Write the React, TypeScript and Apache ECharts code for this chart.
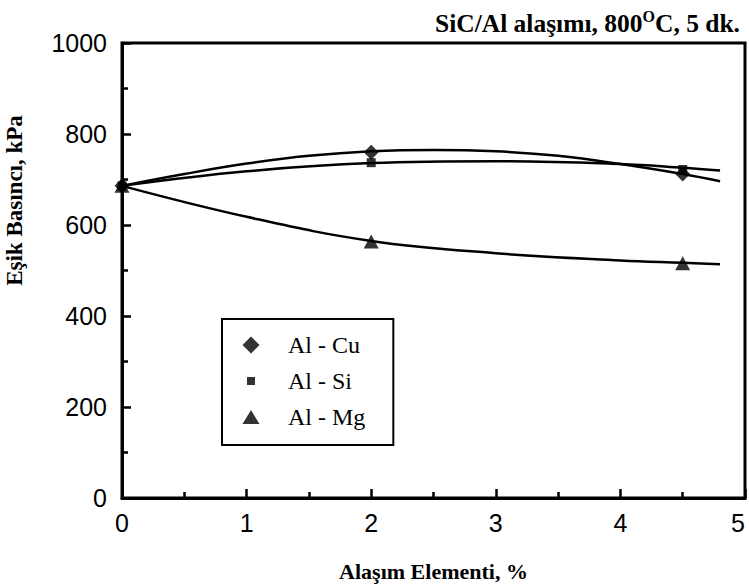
import React, { useEffect, useRef } from "react";
import * as echarts from "echarts";

// Measured points: alloy element content (%) vs threshold pressure (kPa)
const cuPoints: [number, number][] = [[0, 686], [2, 760], [4.5, 712]];
const siPoints: [number, number][] = [[0, 686], [2, 737], [4.5, 722]];
const mgPoints: [number, number][] = [[0, 686], [2, 564], [4.5, 516]];

// Fitted trend curves for each alloy
const cuCurve: [number, number][] = [
  [0, 686], [0.5, 712], [1, 735], [1.5, 752], [2, 762], [2.5, 765],
  [3, 762], [3.5, 752], [4, 734], [4.5, 712], [4.8, 696],
];
const siCurve: [number, number][] = [
  [0, 686], [1, 718], [2, 736], [3, 740], [4, 734], [4.5, 726], [4.8, 720],
];
const mgCurve: [number, number][] = [
  [0, 686], [1, 618], [2, 565], [3, 538], [4, 522], [4.5, 517], [4.8, 514],
];

const seriesNames = ["Al - Cu", "Al - Si", "Al - Mg"];
const xTicks = { min: 0, max: 5, interval: 1 };
const yTicks = { min: 0, max: 1000, interval: 200 };

const SERIF = "'Liberation Serif', 'Times New Roman', serif";
const SANS = "'Liberation Sans', Arial, sans-serif";

export default function App() {
  const ref = useRef<HTMLDivElement>(null);

  useEffect(() => {
    if (!ref.current) return;
    const chart = echarts.init(ref.current, undefined, { renderer: "svg" });

    const curve = (name: string, data: [number, number][]) => ({
      name,
      type: "line",
      data,
      smooth: 0.4,
      showSymbol: false,
      symbol: "none",
      lineStyle: { color: "#000", width: 2.5 },
      z: 2,
      silent: true,
    });

    const marks = (
      name: string,
      data: [number, number][],
      symbol: string,
      size: number | number[]
    ) => ({
      name,
      type: "scatter",
      data,
      symbol,
      symbolSize: size,
      itemStyle: { color: "#000" },
      z: 3,
    });

    chart.setOption({
      animation: false,
      backgroundColor: "#fff",
      title: {
        right: 4,
        top: 3,
        text: "{a|SiC/Al alaşımı, 800}{s|O}{a|C, 5 dk.}",
        textStyle: {
          rich: {
            a: { fontFamily: SERIF, fontWeight: "bold", fontSize: 25.5, color: "#000", lineHeight: 30 },
            s: { fontFamily: SERIF, fontWeight: "bold", fontSize: 16, color: "#000", lineHeight: 16, verticalAlign: "top" },
          },
        },
      },
      grid: {
        left: 122,
        right: 4,
        top: 43,
        bottom: 87,
        containLabel: false,
        outerBoundsMode: "none",
        show: true,
        borderColor: "#000",
        borderWidth: 3,
        backgroundColor: "transparent",
      },
      legend: {
        orient: "vertical",
        left: 222,
        top: 319,
        padding: [14, 28, 16, 20],
        itemGap: 12,
        itemWidth: 18,
        itemHeight: 18,
        borderColor: "#000",
        borderWidth: 2,
        backgroundColor: "#fff",
        selectedMode: false,
        textStyle: {
          fontFamily: SERIF,
          fontSize: 24,
          color: "#000",
          padding: [0, 0, 0, 23],
        },
        data: [
          { name: seriesNames[0], icon: "path://M0,0M18,18M9,0.5L17.5,9L9,17.5L0.5,9Z" },
          { name: seriesNames[1], icon: "path://M0,0M18,18M5,5L13,5L13,13L5,13Z" },
          { name: seriesNames[2], icon: "path://M0,0M18,18M9,2L17.5,16L0.5,16Z" },
        ],
      },
      xAxis: {
        type: "value",
        ...xTicks,
        name: "Alaşım Elementi, %",
        nameLocation: "middle",
        nameGap: 62,
        nameTextStyle: { fontFamily: SERIF, fontWeight: "bold", fontSize: 22, color: "#000" },
        axisLine: { show: true, lineStyle: { color: "#000", width: 3 } },
        axisTick: { show: true, inside: true, length: 9, lineStyle: { color: "#000", width: 2.5 } },
        minorTick: { show: true, splitNumber: 2, length: 6, lineStyle: { color: "#000", width: 2.5 } },
        axisLabel: {
          fontFamily: SANS,
          fontSize: 25,
          color: "#000",
          margin: 12,
          alignMaxLabel: "right",
        },
        splitLine: { show: false },
      },
      yAxis: {
        type: "value",
        ...yTicks,
        name: "Eşik Basıncı, kPa",
        nameLocation: "middle",
        nameRotate: 90,
        nameGap: 96,
        nameTextStyle: {
          fontFamily: SERIF,
          fontWeight: "bold",
          fontSize: 23,
          color: "#000",
          padding: [0, 0, 0, 140],
        },
        axisLine: { show: true, lineStyle: { color: "#000", width: 3 } },
        axisTick: { show: true, inside: true, length: 9, lineStyle: { color: "#000", width: 2.5 } },
        minorTick: { show: true, splitNumber: 2, length: 6, lineStyle: { color: "#000", width: 2.5 } },
        axisLabel: {
          fontFamily: SANS,
          fontSize: 25,
          color: "#000",
          margin: 15,
          formatter: (v: number) => String(v),
        },
        splitLine: { show: false },
      },
      series: [
        curve("Al - Cu eğrisi", cuCurve),
        curve("Al - Si eğrisi", siCurve),
        curve("Al - Mg eğrisi", mgCurve),
        marks(seriesNames[0], cuPoints, "diamond", 15),
        marks(seriesNames[1], siPoints, "rect", 9),
        marks(seriesNames[2], mgPoints, "triangle", [15, 14]),
      ],
    });

    return () => chart.dispose();
  }, []);

  return (
    <div
      ref={ref}
      style={{ position: "fixed", left: 0, top: 0, width: 749, height: 585 }}
    />
  );
}
